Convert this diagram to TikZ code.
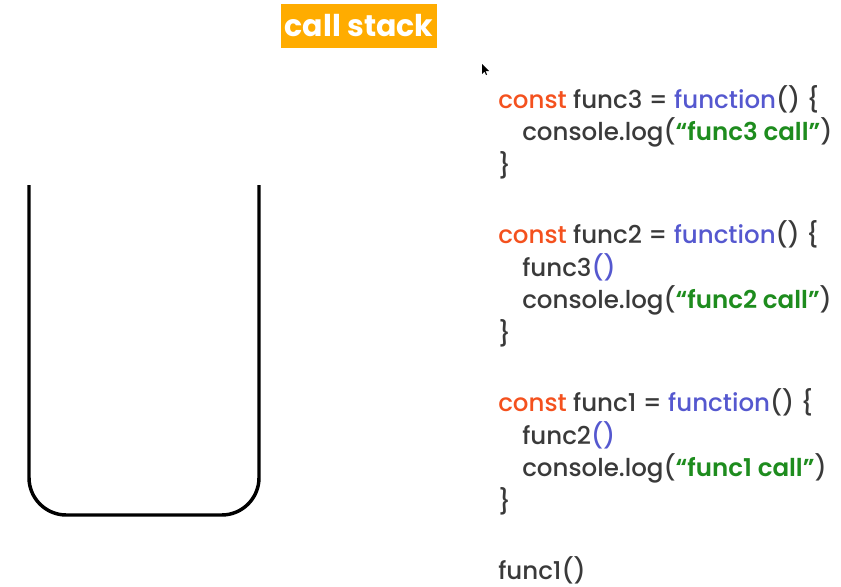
\documentclass[tikz,border=0pt]{standalone}
\usepackage{fontspec}
\setmainfont{Poppins}
\newfontfamily\codefont{Poppins Medium}
\newfontfamily\strfont{Poppins SemiBold}
\definecolor{kwred}{HTML}{F4511E}
\definecolor{kwblue}{HTML}{5558CF}
\definecolor{strgreen}{HTML}{1E8C1E}
\definecolor{codegray}{HTML}{3A3A3A}
\definecolor{titleorange}{HTML}{FFAC00}
\newcommand{\jskw}[1]{\textcolor{kwred}{#1}}
\newcommand{\jsfn}[1]{\textcolor{kwblue}{#1}}
\newcommand{\jsstr}[1]{\textcolor{strgreen}{\strfont #1}}
\begin{document}
\begin{tikzpicture}[x=0.75pt,y=-0.75pt,
  codeline/.style={anchor=west,inner sep=0pt,text=codegray,font=\codefont\fontsize{18.4}{22}\selectfont},
  stackline/.style={line width=2.6pt,rounded corners=28pt}]
  \useasboundingbox (0,0) rectangle (841,586);
  % Titel
  \node[fill=titleorange,text=white,font=\bfseries\fontsize{22.5}{26}\selectfont,
        minimum width=156*0.75pt,minimum height=44*0.75pt,inner sep=0pt] (title) at (359,26) {call stack};
  % Mauszeiger
  \fill (482,64) -- (482,74) -- (484.5,71.5) -- (486,75) -- (487,74.5) -- (485.5,71) -- (489,71) -- cycle;
  % der Stapel
  \draw[stackline] (29,185) -- (29,515) -- (259,515) -- (259,185);
  % Code
  \node[codeline] (f3head) at (498,99)  {\jskw{const} func3 = \jsfn{function}() \{};
  \node[codeline] (f3log)  at (522,132) {console.log(\jsstr{“func3 call”})};
  \node[codeline] (f3end)  at (498,165) {\}};
  \node[codeline] (f2head) at (498,234) {\jskw{const} func2 = \jsfn{function}() \{};
  \node[codeline] (f2call) at (522,267) {func3\jsfn{()}};
  \node[codeline] (f2log)  at (522,300) {console.log(\jsstr{“func2 call”})};
  \node[codeline] (f2end)  at (498,333) {\}};
  \node[codeline] (f1head) at (498,402) {\jskw{const} func1 = \jsfn{function}() \{};
  \node[codeline] (f1call) at (522,435) {func2\jsfn{()}};
  \node[codeline] (f1log)  at (522,468) {console.log(\jsstr{“func1 call”})};
  \node[codeline] (f1end)  at (498,501) {\}};
  \node[codeline] (run)    at (498,570) {func1()};
\end{tikzpicture}
\end{document}
